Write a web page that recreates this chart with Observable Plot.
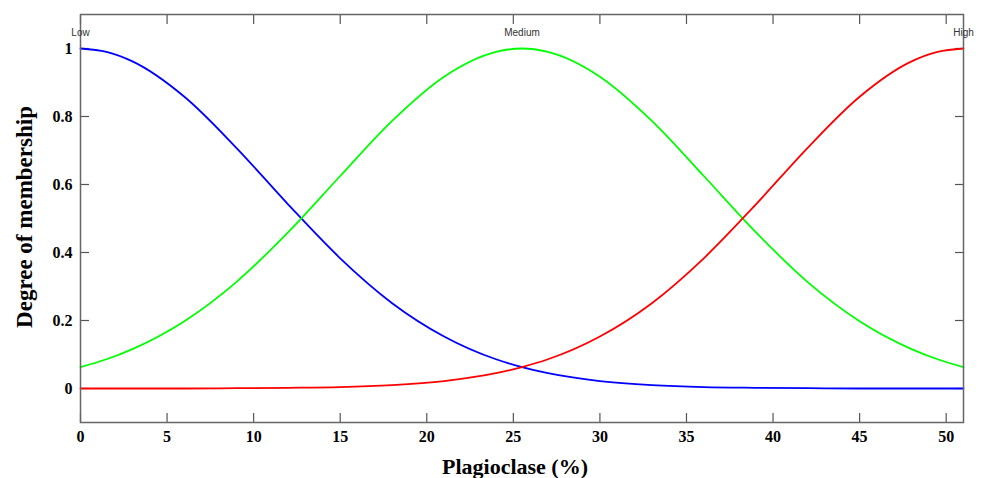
<!DOCTYPE html>
<html>
<head>
<meta charset="utf-8">
<script src="https://cdn.jsdelivr.net/npm/d3@7"></script>
<script src="https://cdn.jsdelivr.net/npm/@observablehq/plot@0.6"></script>
<style>
  html, body { margin: 0; padding: 0; background: #fff; }
  #chart svg { display: block; }
</style>
</head>
<body>
<div id="chart"></div>
<script>
// Values
const xs =        [0,     1.5,   3,     6,     9,     12,    15,    18,    21,    24,    25.5,  27,    30,    33,    36,    39,    42,    45,    48,    49.5,  51];
const lowVals =   [1.000, 0.990, 0.962, 0.858, 0.708, 0.541, 0.383, 0.251, 0.153, 0.086, 0.063, 0.045, 0.022, 0.010, 0.004, 0.002, 0.001, 0.000, 0.000, 0.000, 0.000];
const medVals =   [0.063, 0.086, 0.116, 0.198, 0.313, 0.460, 0.625, 0.787, 0.917, 0.990, 1.000, 0.990, 0.917, 0.787, 0.625, 0.460, 0.313, 0.198, 0.116, 0.086, 0.063];
const highVals =  [0.000, 0.000, 0.000, 0.000, 0.001, 0.002, 0.004, 0.010, 0.022, 0.045, 0.063, 0.086, 0.153, 0.251, 0.383, 0.541, 0.708, 0.858, 0.962, 0.990, 1.000];

const mfNames = ["Low", "Medium", "High"];
const mfCenters = [0, 25.5, 51];
const mfColors = ["#0000ff", "#00ff00", "#ff0000"];

const xTicks = [0, 5, 10, 15, 20, 25, 30, 35, 40, 45, 50];
const yTicks = [0, 0.2, 0.4, 0.6, 0.8, 1];
const yTickLabels = ["0", "0.2", "0.4", "0.6", "0.8", "1"];

const xLabel = "Plagioclase (%)";
const yLabel = "Degree of membership";

const series = [lowVals, medVals, highVals];
const rows = [];
series.forEach((vals, i) => xs.forEach((x, j) => rows.push({x, y: vals[j], mf: mfNames[i]})));
const labels = mfNames.map((n, i) => ({name: n, x: mfCenters[i]}));

const serif = "'Liberation Serif', 'Times New Roman', serif";
const tickStyle = {stroke: "#555", strokeWidth: 1.2};

const chart = Plot.plot({
  width: 985,
  height: 478,
  marginLeft: 80,
  marginRight: 22,
  marginTop: 14,
  marginBottom: 56,
  style: {fontFamily: serif, background: "#fff"},
  x: {domain: [0, 51]},
  y: {domain: [-0.1, 1.1]},
  color: {domain: mfNames, range: mfColors},
  marks: [
    Plot.axisX(xTicks, {anchor: "bottom", tickSize: -9, tickPadding: 17, label: null,
      fontSize: 16, fontWeight: "bold", fill: "#000", ...tickStyle}),
    Plot.axisX(xTicks, {anchor: "top", tickSize: -9, tickFormat: () => "", label: null, ...tickStyle}),
    Plot.axisY(yTicks, {anchor: "left", tickSize: -9, tickPadding: 17, label: null,
      tickFormat: (d, i) => yTickLabels[i], fontSize: 16, fontWeight: "bold", fill: "#000", ...tickStyle}),
    Plot.axisY(yTicks, {anchor: "right", tickSize: -9, tickFormat: () => "", label: null, ...tickStyle}),
    Plot.line(rows, {x: "x", y: "y", stroke: "mf", strokeWidth: 1.8, curve: "monotone-x"}),
    Plot.frame({stroke: "#666", strokeWidth: 1.5}),
    Plot.text(labels, {x: "x", frameAnchor: "top", lineAnchor: "middle", dy: 18, text: "name",
      fontFamily: "'Liberation Sans', Arial, sans-serif", fontSize: 10, fill: "#333"}),
    Plot.text([xLabel], {frameAnchor: "bottom", lineAnchor: "middle", textAnchor: "middle", dy: 44, dx: -7, text: d => d,
      fontSize: 22, fontWeight: "bold", fill: "#000"}),
    Plot.text([yLabel], {frameAnchor: "left", lineAnchor: "middle", textAnchor: "middle", dx: -56, dy: -1.5, rotate: -90, text: d => d,
      fontSize: 23, fontWeight: "bold", fill: "#000"})
  ]
});
document.getElementById("chart").appendChild(chart);
</script>
</body>
</html>
